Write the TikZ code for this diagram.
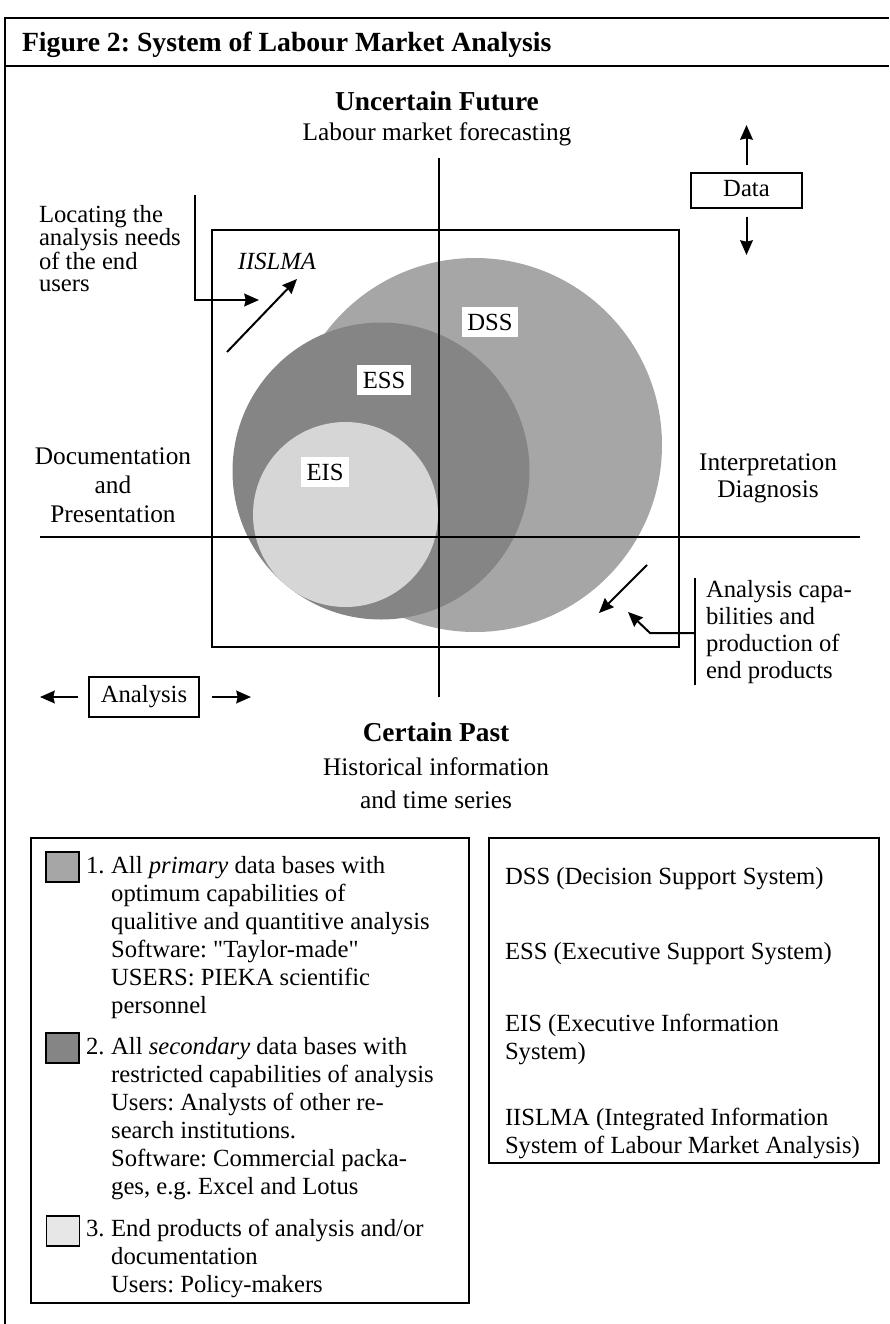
\documentclass[tikz,border=0pt]{standalone}
\usepackage{fontspec}
\setmainfont{Liberation Serif}
\usetikzlibrary{arrows.meta}
\frenchspacing
\definecolor{dssgray}{gray}{0.65}
\definecolor{essgray}{gray}{0.52}
\definecolor{eisgray}{gray}{0.84}
\newcommand{\ltab}[1]{\begin{tabular}[t]{@{}l@{}}#1\end{tabular}}
\newcommand{\ctab}[1]{\begin{tabular}[t]{@{}c@{}}#1\end{tabular}}
\newcommand{\sqt}{\XeTeXglyph\numexpr\XeTeXcharglyph"22\relax}
\begin{document}
\begin{tikzpicture}[x=0.75pt,y=-0.75pt,
  every node/.style={inner sep=0pt, outer sep=0pt},
  txt/.style={font=\fontsize{18.5}{21}\selectfont},
  head/.style={font=\fontsize{20.5}{24}\selectfont\bfseries},
  tag/.style={txt, fill=white, inner xsep=4pt, inner ysep=5pt, text height=12.2pt, text depth=0pt},
  bx/.style={txt, draw, line width=1.3pt, text height=12.6pt, text depth=4pt},
  frm/.style={line width=1.4pt},
  axis/.style={line width=1.8pt},
  arr/.style={line width=1.5pt, -{Stealth[length=11pt,width=9.5pt,inset=1pt]}},
  brk/.style={line width=1.5pt},
  sw/.style={draw, line width=0.9pt, minimum width=24.75pt, minimum height=22.5pt}
]
\useasboundingbox (0,0) rectangle (889,1324);
% outer frame
\draw[frm] (889,18) -- (5,18) -- (5,1324);
\draw[frm] (5,66) -- (889,66);
\node[anchor=base west, font=\fontsize{20.8}{24}\selectfont\bfseries] (title) at (22,51) {Figure 2: System of Labour Market Analysis};

% circles
\node[circle, fill=dssgray, minimum size=280.5pt] (dss) at (475,445) {};
\node[circle, fill=essgray, minimum size=222.75pt] (ess) at (381,471) {};
\node[circle, fill=eisgray, minimum size=138.75pt] (eis) at (345.5,514.5) {};

% square
\node[draw, frm, minimum width=350.25pt, minimum height=312.75pt] (sq) at (445.5,438.5) {};

% axes
\coordinate (vtop) at (439,158);
\coordinate (vbot) at (439,697);
\coordinate (hleft) at (40,537);
\coordinate (hright) at (860,537);
\draw[axis] (vtop) -- (vbot);
\draw[axis] (hleft) -- (hright);

% circle labels
\node[tag] (dsst) at (490,322) {DSS};
\node[tag] (esst) at (384,380) {ESS};
\node[tag] (eist) at (325,472) {EIS};
\node[txt, font=\fontsize{18.5}{21}\selectfont\itshape] (iislma) at (277,261) {IISLMA};

% IISLMA arrow
\coordinate (ia1) at (227,352);
\coordinate (ia2) at (297,279);
\draw[arr] (ia1) -- (ia2);

% locating bracket
\node[txt, anchor=base west, font=\fontsize{18.5}{16.6}\selectfont] (loc) at (39,222) {\ltab{Locating the\\analysis needs\\of the end\\users}};
\coordinate (lb1) at (195,195);
\coordinate (lb2) at (195,300);
\coordinate (lb3) at (259,300);
\draw[arr] (lb1) -- (lb2) -- (lb3);

% bottom right arrow and bracket
\coordinate (ba1) at (647,565);
\coordinate (ba2) at (599,613);
\draw[arr] (ba1) -- (ba2);
\coordinate (rb1) at (695,578);
\coordinate (rb2) at (695,685);
\coordinate (rb3) at (695,633);
\coordinate (rb4) at (650,633);
\coordinate (rb5) at (628,612);
\draw[brk] (rb1) -- (rb2);
\draw[arr] (rb3) -- (rb4) -- (rb5);
\node[txt, anchor=base west, font=\fontsize{18.5}{20.3}\selectfont] (anacap) at (706,597) {\ltab{Analysis capa-\\bilities and\\production of\\end products}};

% quadrant labels
\node[head, anchor=base] (uf) at (437,110) {Uncertain Future};
\node[txt, font=\fontsize{19}{21}\selectfont, anchor=base] (lmf) at (437,140) {Labour market forecasting};
\node[head, anchor=base] (cp) at (436,741) {Certain Past};
\node[txt, font=\fontsize{19}{21}\selectfont, anchor=base] (hi) at (436,775) {Historical information};
\node[txt, font=\fontsize{19}{21}\selectfont, anchor=base] (ts) at (436,808) {and time series};
\node[txt, anchor=base, font=\fontsize{19}{21.75}\selectfont] (doc) at (113,464) {\ctab{Documentation\\and\\Presentation}};
\node[txt, anchor=base, font=\fontsize{19}{20.3}\selectfont] (interp) at (768,470) {\ctab{Interpretation\\Diagnosis}};

% Data box
\node[bx, minimum width=83pt, minimum height=26pt] (data) at (746.5,190.5) {Data};
\coordinate (dup) at (746.5,125);
\coordinate (ddn) at (746.5,255);
\draw[arr, shorten <=6pt] (data.north) -- (dup);
\draw[arr, shorten <=6.5pt] (data.south) -- (ddn);

% Analysis box
\node[bx, minimum width=82.5pt, minimum height=30pt] (ana) at (144,697) {Analysis};
\coordinate (aleft) at (40,697);
\coordinate (aright) at (251,697);
\draw[arr, shorten <=8pt] (ana.west) -- (aleft);
\draw[arr, shorten <=9.5pt] (ana.east) -- (aright);

% legend left
\node[draw, frm, minimum width=328.5pt, minimum height=348.75pt] (legl) at (250,1070.5) {};
\node[sw, fill=dssgray] (sw1) at (62.5,867) {};
\node[sw, fill=essgray] (sw2) at (62.5,1048) {};
\node[sw, fill=eisgray!60] (sw3) at (63,1231) {};
\node[txt, anchor=base west] (it1) at (86,873) {%
  \begin{tabular}[t]{@{}l@{\hspace{5pt}}l@{}}
  1. & All \textit{primary} data bases with\\
     & optimum capabilities of\\
     & qualitive and quantitive analysis\\
     & Software: \sqt Taylor-made\sqt\\
     & USERS: PIEKA scientific\\
     & personnel
  \end{tabular}};
\node[txt, anchor=base west] (it2) at (86,1054) {%
  \begin{tabular}[t]{@{}l@{\hspace{5pt}}l@{}}
  2. & All \textit{secondary} data bases with\\
     & restricted capabilities of analysis\\
     & Users: Analysts of other re-\\
     & search institutions.\\
     & Software: Commercial packa-\\
     & ges, e.g. Excel and Lotus
  \end{tabular}};
\node[txt, anchor=base west] (it3) at (86,1236) {%
  \begin{tabular}[t]{@{}l@{\hspace{5pt}}l@{}}
  3. & End products of analysis and/or\\
     & documentation\\
     & Users: Policy-makers
  \end{tabular}};

% legend right
\node[draw, frm, minimum width=292.5pt, minimum height=243.75pt] (legr) at (684,1000.5) {};
\node[txt, anchor=base west] (ldss) at (505,884) {DSS (Decision Support System)};
\node[txt, anchor=base west] (less) at (505,959) {ESS (Executive Support System)};
\node[txt, anchor=base west] (leis) at (505,1031) {\ltab{EIS (Executive Information\\System)}};
\node[txt, anchor=base west] (liis) at (505,1125) {\ltab{IISLMA (Integrated Information\\System of Labour Market Analysis)}};
\end{tikzpicture}
\end{document}
